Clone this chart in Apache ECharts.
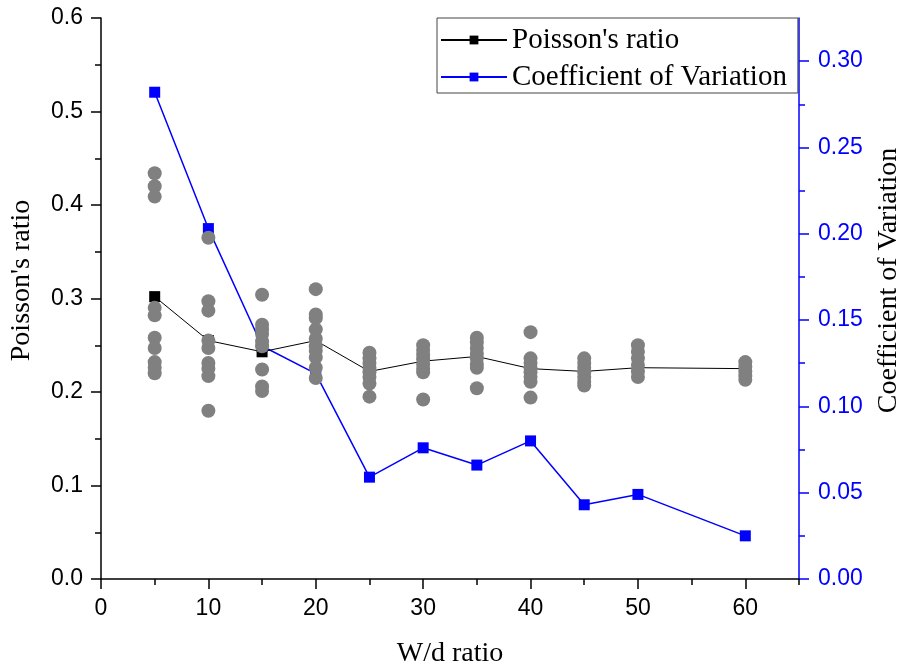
<!DOCTYPE html>
<html>
<head>
<meta charset="utf-8">
<script src="https://cdn.jsdelivr.net/npm/echarts@6/dist/echarts.min.js"></script>
<style>
html,body{margin:0;padding:0;background:#fff;}
#chart{width:899px;height:671px;}
</style>
</head>
<body>
<div id="chart"></div>
<script>
// W/d ratio categories
var wdRatio = [5, 10, 15, 20, 25, 30, 35, 40, 45, 50, 60];
// Mean Poisson's ratio
var poissonMean = [0.302, 0.255, 0.243, 0.255, 0.222, 0.233, 0.238, 0.225, 0.222, 0.226, 0.225];
// Coefficient of variation
var covValues = [0.282, 0.203, 0.135, 0.119, 0.059, 0.076, 0.066, 0.080, 0.043, 0.049, 0.025];
// Individual Poisson's ratio samples per W/d ratio
var samples5  = [0.434, 0.420, 0.409, 0.290, 0.282, 0.258, 0.247, 0.232, 0.226, 0.220];
var samples10 = [0.365, 0.297, 0.287, 0.255, 0.247, 0.231, 0.225, 0.217, 0.180];
var samples15 = [0.304, 0.272, 0.267, 0.262, 0.254, 0.249, 0.224, 0.206, 0.201];
var samples20 = [0.310, 0.283, 0.279, 0.267, 0.257, 0.249, 0.244, 0.237, 0.226, 0.215];
var samples25 = [0.242, 0.236, 0.231, 0.226, 0.221, 0.216, 0.209, 0.195];
var samples30 = [0.250, 0.245, 0.240, 0.235, 0.230, 0.225, 0.221, 0.192];
var samples35 = [0.258, 0.253, 0.247, 0.241, 0.236, 0.230, 0.226, 0.204];
var samples40 = [0.264, 0.236, 0.231, 0.226, 0.221, 0.216, 0.211, 0.194];
var samples45 = [0.236, 0.231, 0.226, 0.221, 0.216, 0.211, 0.207];
var samples50 = [0.250, 0.243, 0.236, 0.229, 0.222, 0.216];
var samples60 = [0.232, 0.227, 0.222, 0.217, 0.213];
var sampleGroups = [samples5, samples10, samples15, samples20, samples25, samples30, samples35, samples40, samples45, samples50, samples60];

// Tick values
var xMajorTicks = [0, 10, 20, 30, 40, 50, 60];
var xMinorTicks = [5, 15, 25, 35, 45, 55, 65];
var rightMajorTicks = [0, 0.05, 0.10, 0.15, 0.20, 0.25, 0.30];
var rightMinorTicks = [0.025, 0.075, 0.125, 0.175, 0.225, 0.275];

var scatterData = [];
wdRatio.forEach(function (x, i) {
  sampleGroups[i].forEach(function (v) { scatterData.push([x, v]); });
});
var meanData = wdRatio.map(function (x, i) { return [x, poissonMean[i]]; });
var covData = wdRatio.map(function (x, i) { return [x, covValues[i]]; });

var SANS = 'Liberation Sans, Arial, sans-serif';
var SERIF = 'Liberation Serif, Times New Roman, serif';
var BLUE = '#0000ff';

var chart = echarts.init(document.getElementById('chart'), null, {renderer: 'canvas'});
chart.setOption({
  animation: false,
  backgroundColor: '#fff',
  grid: {left: 101, right: 100, top: 18, bottom: 92, containLabel: false, outerBoundsMode: 'none'},
  legend: {
    orient: 'vertical',
    left: 437, top: 18,
    data: ["Poisson's ratio", 'Coefficient of Variation'],
    itemWidth: 66, itemHeight: 11, itemGap: 5,
    padding: [6, 11, 0, 3],
    borderColor: '#444', borderWidth: 1,
    textStyle: {fontFamily: SERIF, fontSize: 29, color: '#000', lineHeight: 32}
  },
  xAxis: [{
    type: 'value', min: 0, max: 65,
    name: 'W/d ratio', nameLocation: 'middle', nameGap: 61,
    nameTextStyle: {fontFamily: SERIF, fontSize: 28, color: '#000'},
    axisLine: {show: true, onZero: false, lineStyle: {color: '#000', width: 1.5}},
    axisTick: {show: true, length: 10, customValues: xMajorTicks, lineStyle: {color: '#000', width: 1.5}},
    axisLabel: {customValues: xMajorTicks, margin: 18, fontFamily: SANS, fontSize: 23, color: '#000'},
    splitLine: {show: false}
  }, {
    type: 'value', min: 0, max: 65, position: 'bottom',
    axisLine: {show: false, onZero: false},
    axisTick: {show: true, length: 6, customValues: xMinorTicks, lineStyle: {color: '#000', width: 1.5}},
    axisLabel: {show: false},
    splitLine: {show: false}
  }],
  yAxis: [{
    type: 'value', min: 0, max: 0.6, interval: 0.1, position: 'left',
    name: "Poisson's ratio", nameLocation: 'middle', nameGap: 65,
    nameTextStyle: {fontFamily: SERIF, fontSize: 28, color: '#000', padding: [0, 0, 0, 36]},
    axisLine: {show: true, onZero: false, lineStyle: {color: '#000', width: 1.5}},
    axisTick: {show: true, length: 10, lineStyle: {color: '#000', width: 1.5}},
    minorTick: {show: true, splitNumber: 2, length: 6, lineStyle: {color: '#000', width: 1.5}},
    axisLabel: {margin: 18, fontFamily: SANS, fontSize: 23, color: '#000',
      formatter: function (v) { return v.toFixed(1); }},
    splitLine: {show: false}
  }, {
    type: 'value', min: 0, max: 0.325, position: 'right',
    name: 'Coefficient of Variation', nameLocation: 'middle', nameGap: 76, nameRotate: 90,
    nameTextStyle: {fontFamily: SERIF, fontSize: 28, color: '#000', padding: [0, 0, 0, 36]},
    axisLine: {show: true, onZero: false, lineStyle: {color: BLUE, width: 1.5}},
    axisTick: {show: true, length: 10, customValues: rightMajorTicks, lineStyle: {color: BLUE, width: 1.5}},
    axisLabel: {customValues: rightMajorTicks, margin: 19, fontFamily: SANS, fontSize: 23, color: BLUE,
      formatter: function (v) { return v.toFixed(2); }},
    splitLine: {show: false}
  }, {
    type: 'value', min: 0, max: 0.325, position: 'right',
    axisLine: {show: false, onZero: false},
    axisTick: {show: true, length: 6, customValues: rightMinorTicks, lineStyle: {color: BLUE, width: 1.5}},
    axisLabel: {show: false},
    splitLine: {show: false}
  }],
  series: [{
    name: 'Coefficient of Variation', type: 'line', xAxisIndex: 0, yAxisIndex: 1,
    data: covData, symbol: 'rect', symbolSize: 11, z: 2,
    lineStyle: {color: BLUE, width: 1.5}, itemStyle: {color: BLUE}
  }, {
    name: "Poisson's ratio", type: 'line', xAxisIndex: 0, yAxisIndex: 0,
    data: meanData, symbol: 'rect', symbolSize: 11, z: 3,
    lineStyle: {color: '#000', width: 1}, itemStyle: {color: '#000'}
  }, {
    name: 'samples', type: 'scatter', xAxisIndex: 0, yAxisIndex: 0,
    data: scatterData, symbol: 'circle', symbolSize: 14, z: 4,
    itemStyle: {color: '#808080', opacity: 1}
  }]
});
</script>
</body>
</html>
